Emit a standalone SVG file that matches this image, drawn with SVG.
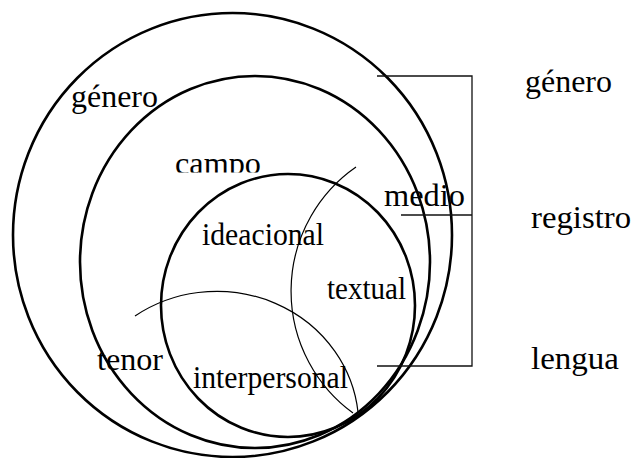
<svg xmlns="http://www.w3.org/2000/svg" width="633" height="458" viewBox="0 0 633 458">
<style>
.ring{fill:none;stroke:#000;stroke-width:2.6}
.arc{fill:none;stroke:#000;stroke-width:1.2}
.br{fill:none;stroke:#111;stroke-width:1.3}
text{font-family:"Liberation Serif","Times New Roman",serif;font-size:32px;fill:#000}
</style>
<defs>
<clipPath id="campoClip"><rect x="160" y="140" width="120" height="32.5"/></clipPath>
</defs>
<rect width="633" height="458" fill="#fff"/>
<g id="genero">
<ellipse class="ring" cx="232.5" cy="235" rx="219.5" ry="222"/>
<text x="71" y="107" textLength="87" lengthAdjust="spacingAndGlyphs">género</text>
</g>
<g id="registro">
<ellipse class="ring" cx="255" cy="262" rx="175" ry="186"/>
<text x="175" y="174" textLength="86" lengthAdjust="spacingAndGlyphs" clip-path="url(#campoClip)">campo</text>
<text x="384" y="206" textLength="81" lengthAdjust="spacingAndGlyphs">medio</text>
<text x="97" y="370" textLength="66" lengthAdjust="spacingAndGlyphs">tenor</text>
</g>
<g id="lengua">
<ellipse class="ring" cx="288" cy="305.5" rx="127" ry="131.5"/>
<text x="202" y="245" textLength="122" lengthAdjust="spacingAndGlyphs">ideacional</text>
<text x="327" y="299" textLength="79" lengthAdjust="spacingAndGlyphs">textual</text>
<text x="193" y="388" textLength="155" lengthAdjust="spacingAndGlyphs">interpersonal</text>
</g>
<g id="connectors">
<path class="arc" d="M356,167 A151,151 0 0 0 353,413"/>
<path class="arc" d="M135,316 A142,135 0 0 1 358,412"/>
<path class="br" d="M377,76 H472 V366 H377"/>
<path class="br" d="M401,215 H472"/>
</g>
<g id="levels">
<text x="525" y="92" textLength="87" lengthAdjust="spacingAndGlyphs">género</text>
<text x="531" y="228" textLength="100" lengthAdjust="spacingAndGlyphs">registro</text>
<text x="531" y="369" textLength="88" lengthAdjust="spacingAndGlyphs">lengua</text>
</g>
</svg>
